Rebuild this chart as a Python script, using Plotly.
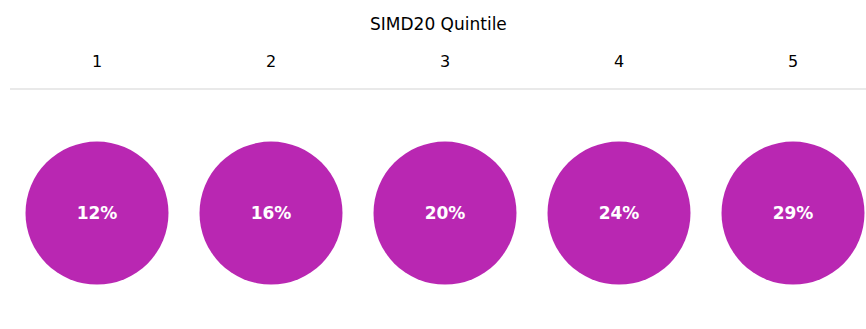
import plotly.graph_objects as go

# SIMD20 quintiles and the share shown in each circle
quintiles = ["1", "2", "3", "4", "5"]
shares = [12, 16, 20, 24, 29]

x_pos = [i + 0.5 for i in range(len(quintiles))]
labels = [f"{v}%" for v in shares]

FONT = "Verdana, DejaVu Sans, sans-serif"

fig = go.Figure()
# circles
fig.add_trace(go.Scatter(
    x=x_pos,
    y=[0.483] * len(quintiles),
    mode="markers",
    marker=dict(size=143, color="#B927B2", line=dict(width=0)),
    hoverinfo="skip",
    showlegend=False,
))
# percentage labels inside the circles
fig.add_trace(go.Scatter(
    x=x_pos,
    y=[0.475] * len(quintiles),
    mode="text",
    text=labels,
    textposition="middle center",
    textfont=dict(family=FONT, size=17, color="white", weight="bold"),
    hoverinfo="skip",
    showlegend=False,
))

# column headers above the divider line
for xp, q in zip(x_pos, quintiles):
    fig.add_annotation(
        x=xp, xref="x", y=1, yref="paper", yanchor="middle",
        yshift=28, text=q, showarrow=False,
        font=dict(family=FONT, size=16, color="#000"),
    )

fig.add_annotation(
    x=0.5, xref="paper", y=1, yref="paper", yanchor="middle",
    yshift=65, text="SIMD20 Quintile", showarrow=False,
    font=dict(family=FONT, size=17, color="#000"),
)

# divider line along the top of the plot area
fig.add_shape(type="line", xref="paper", yref="paper", x0=0, x1=1, y0=1, y1=1,
              line=dict(color="#d3d3d3", width=1))

fig.update_layout(
    width=866, height=329,
    margin=dict(l=10, r=0, t=89, b=0),
    paper_bgcolor="white", plot_bgcolor="white",
    xaxis=dict(range=[0, 856 / 174], visible=False, fixedrange=True),
    yaxis=dict(range=[0, 1], visible=False, fixedrange=True),
)

fig.write_html("out.html")
